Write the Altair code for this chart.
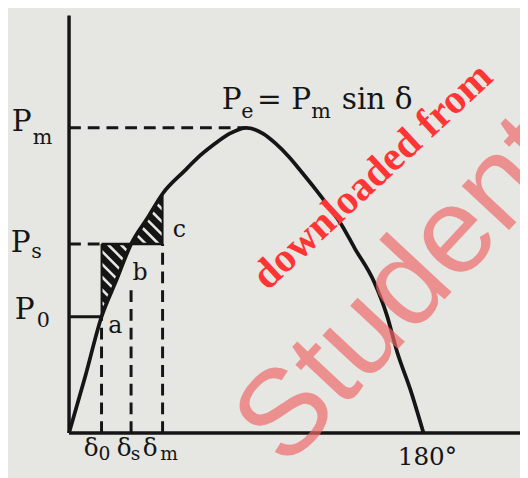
import altair as alt
import pandas as pd
import numpy as np

# ---- values (delta in degrees, P in units of Pm) ----
curve_delta = [0, 8, 16.5, 24, 31.5, 40, 47.5, 58.5, 65, 73.5, 81.5, 90,
               98.5, 105, 111.5, 118.5, 125, 131.5, 138.5, 145, 155, 161.5,
               166.5, 173.5, 180]
curve_p = [0, 0.18, 0.381, 0.50, 0.619, 0.706, 0.784, 0.858, 0.90, 0.945,
           0.981, 1.0, 0.981, 0.948, 0.906, 0.852, 0.80, 0.745, 0.681, 0.606,
           0.494, 0.384, 0.268, 0.139, 0]

P_M = 1.0
P_S = 0.619
P_0 = 0.381
D_0 = 16.5
D_S = 31.5
D_M = 47.5
D_END = 180
X_AXIS_END = 229
Y_AXIS_TOP = 1.368
DS_DASH_TOP = 0.47

level_names = ["P", "P", "P"]
level_subs = ["m", "s", "0"]
angle_subs = ["0", "s", "m"]
point_letters = ["a", "b", "c"]

SERIF = "DejaVu Serif"
INK = "#151515"
PAPER = "#e6e6e3"

xs = alt.Scale(domain=[-31, 229], nice=False, zero=False)
ys = alt.Scale(domain=[-42 / 310, 428 / 310], nice=False, zero=False)


def X(f="x"):
    return alt.X(f"{f}:Q", scale=xs, axis=None)


def Y(f="y"):
    return alt.Y(f"{f}:Q", scale=ys, axis=None)


def seg(x1, y1, x2, y2, width=3, dash=None):
    kw = dict(color=INK, strokeWidth=width)
    if dash:
        kw["strokeDash"] = dash
    df = pd.DataFrame({"x": [x1], "y": [y1], "x2": [x2], "y2": [y2]})
    return alt.Chart(df).mark_rule(**kw).encode(
        x=X(), y=Y(), x2="x2:Q", y2="y2:Q")


def label(ax, ay, text, dx, dy, size, align="center"):
    df = pd.DataFrame({"x": [ax], "y": [ay], "t": [text]})
    return alt.Chart(df).mark_text(
        dx=dx, dy=dy, fontSize=size, align=align, baseline="alphabetic",
        font=SERIF, color=INK).encode(x=X(), y=Y(), text="t:N")


cd = np.array(curve_delta, dtype=float)
cp = np.array(curve_p, dtype=float)
curve_df = pd.DataFrame({"x": cd, "y": cp})

# hatched regions: curve points inside each interval
r1 = curve_df[(curve_df.x >= D_0) & (curve_df.x <= D_S)].copy()
r1["y2"] = P_S
r2 = curve_df[(curve_df.x >= D_S) & (curve_df.x <= D_M)].copy()
r2["y2"] = P_S
fill = alt.Chart(pd.concat([r1.assign(r="1"), r2.assign(r="2")])).mark_area(
    color=INK, orient="vertical", interpolate="monotone").encode(
    x=X(), y=Y(), y2="y2:Q", detail="r:N")

# hatch stripes ("\" direction), clipped to the regions
rows = []
sid = 0
for lo_d, hi_d, upper_is_ps in [(D_0, D_S, True), (D_S, D_M, False)]:
    for c in np.arange(-60, 260, 13.0):
        pts = []
        for d in np.arange(lo_d, hi_d + 0.01, 0.25):
            p = (366 - 2 * d - c) / 310.0
            cv = np.interp(d, cd, cp)
            lo, hi = (cv, P_S) if upper_is_ps else (P_S, cv)
            if lo <= p <= hi:
                pts.append((d, p))
        if len(pts) >= 2:
            for k, (d, p) in enumerate([pts[0], pts[-1]]):
                rows.append({"x": d, "y": p, "sid": sid, "o": k})
            sid += 1
stripes = alt.Chart(pd.DataFrame(rows)).mark_line(
    color=PAPER, strokeWidth=2.6).encode(
    x=X(), y=Y(), detail="sid:N", order="o:Q")

layers = [fill, stripes]

# borders of hatched regions
cm = float(np.interp(D_M, cd, cp))
layers += [
    seg(D_0, P_0, D_0, P_S, width=2),
    seg(D_M, P_S, D_M, cm, width=2),
    seg(D_0, P_S, D_M, P_S, width=2.5),
]

# dashed construction lines
dash = [12, 7]
layers += [
    seg(0, P_M, 90, P_M, width=3, dash=dash),
    seg(0, P_S, D_0, P_S, width=3, dash=dash),
    seg(D_0, 0, D_0, P_0, width=3, dash=dash),
    seg(D_S, 0, D_S, DS_DASH_TOP, width=3, dash=dash),
    seg(D_M, 0, D_M, P_S, width=3, dash=dash),
    seg(0, P_0, D_0, P_0, width=3),
]

# axes
layers += [
    seg(0, 0, 0, Y_AXIS_TOP, width=3.5),
    seg(0, 0, X_AXIS_END, 0, width=3.5),
]

# power-angle curve
layers.append(alt.Chart(curve_df).mark_line(
    color=INK, strokeWidth=3.8, interpolate="monotone").encode(x=X(), y=Y()))

# level labels on the left
for lvl, name, sub, (pdx, pdy, sdx, sdy) in zip(
        [P_M, P_S, P_0], level_names, level_subs,
        [(-48, 3, -27, 16), (-49, 8, -33, 14), (-45, 2, -26, 10)]):
    layers.append(label(0, lvl, name, pdx, pdy, 30))
    layers.append(label(0, lvl, sub, sdx, sdy, 21))

# angle labels
for ang, sub, (ddx, sdx) in zip([D_0, D_S, D_M], angle_subs,
                                [(-10.5, 3), (-7, 4.5), (-12.5, 6.5)]):
    layers.append(label(ang, 0, "δ", ddx, 23, 25))
    layers.append(label(ang, 0, sub, sdx, 27, 19))
layers.append(label(D_END, 0, "180°", 4, 32, 25))

# point letters
for (ax, ay), t, (dx, dy) in zip([(D_0, P_0), (D_S, P_S), (D_M, cm)],
                                 point_letters, [(14, 17), (9, 36), (17, 44)]):
    layers.append(label(ax, ay, t, dx, dy, 24))

# equation
layers += [
    label(90, P_M, "P", -25, -19, 30, align="left"),
    label(90, P_M, "e", -5, -10, 21, align="left"),
    label(90, P_M, "= P", 11, -19, 30, align="left"),
    label(90, P_M, "m", 66, -10, 21, align="left"),
    label(90, P_M, "sin δ", 97, -19, 30, align="left"),
]

# watermark
wm1 = alt.Chart(pd.DataFrame({"x": [154], "y": [0.842], "t": ["downloaded from"]})).mark_text(
    angle=317, fontSize=42, font="Liberation Serif", fontWeight="bold",
    color="#ff3535", align="center", baseline="middle").encode(
    x=X(), y=Y(), text="t:N")
wm2 = alt.Chart(pd.DataFrame({"x": [110], "y": [-0.12], "t": ["Student"]})).mark_text(
    angle=313, fontSize=124, font="Liberation Sans", color="#f06868",
    opacity=0.68, align="left", baseline="alphabetic").encode(
    x=X(), y=Y(), text="t:N")
layers += [wm2, wm1]

chart = alt.layer(*layers).properties(
    width=520, height=470, padding=0,
    autosize=alt.AutoSizeParams(type="none"),
    background=PAPER,
).configure_view(stroke=None)

chart.save("out.html", embed_options={"renderer": "svg", "actions": False})
